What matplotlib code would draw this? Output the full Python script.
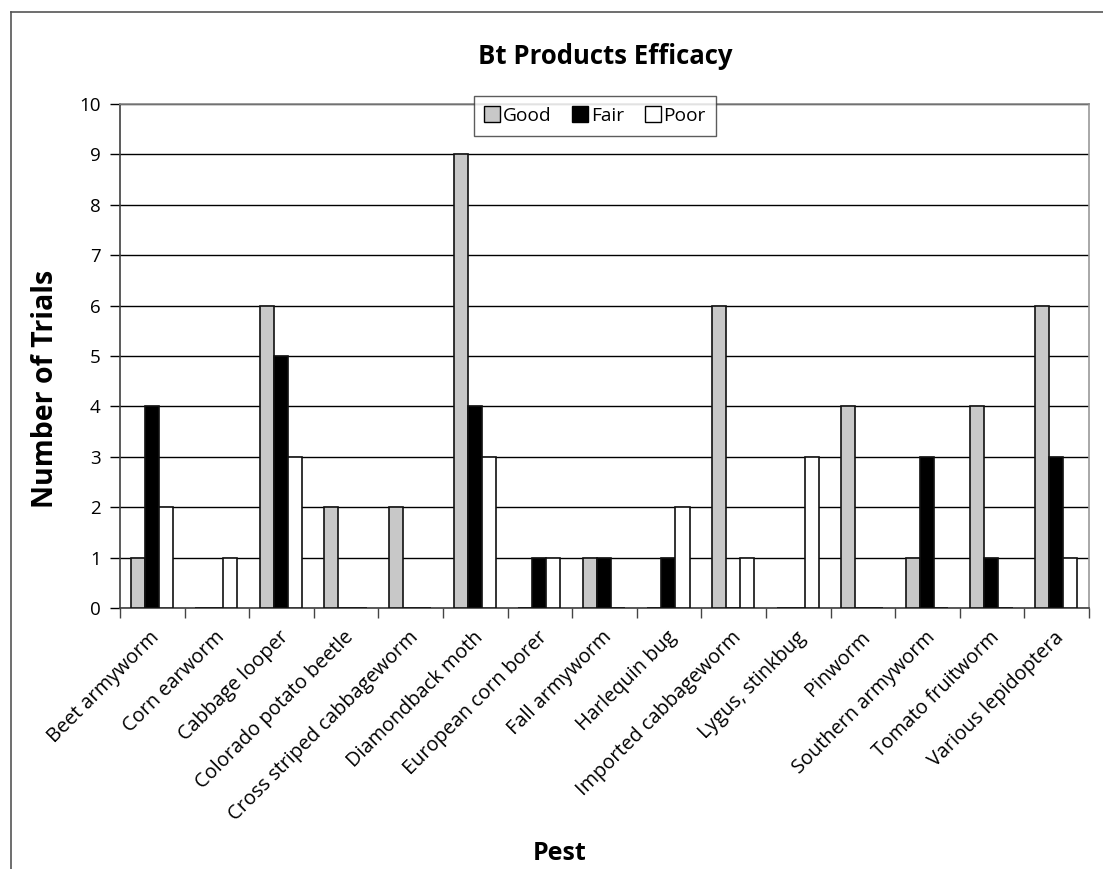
import matplotlib
matplotlib.use("Agg")
import matplotlib.pyplot as plt
from matplotlib.lines import Line2D
import numpy as np

plt.rcParams['font.family'] = ['Open Sans', 'DejaVu Sans']

pests = ["Beet armyworm", "Corn earworm", "Cabbage looper", "Colorado potato beetle",
         "Cross striped cabbageworm", "Diamondback moth", "European corn borer",
         "Fall armyworm", "Harlequin bug", "Imported cabbageworm", "Lygus, stinkbug",
         "Pinworm", "Southern armyworm", "Tomato fruitworm", "Various lepidoptera"]
good = [1, 0, 6, 2, 2, 9, 0, 1, 0, 6, 0, 4, 1, 4, 6]
fair = [4, 0, 5, 0, 0, 4, 1, 1, 1, 0, 0, 0, 3, 1, 3]
poor = [2, 1, 3, 0, 0, 3, 1, 0, 2, 1, 3, 0, 0, 0, 1]
series_names = ["Good", "Fair", "Poor"]
colors = ["#c8c8c8", "#000000", "#ffffff"]
yticks = list(range(0, 11))

W, H = 1103, 869
fig = plt.figure(figsize=(W / 100, H / 100), dpi=100)
ax = fig.add_axes([120 / W, 1 - 608 / H, (1089 - 120) / W, (608 - 104) / H])

x = np.arange(len(pests))
bw = 0.218
for i, (vals, c, name) in enumerate(zip([good, fair, poor], colors, series_names)):
    ax.bar(x + (i - 1) * bw - 0.01, vals, width=bw, color=c, edgecolor="#111111",
           linewidth=1.2, label=name, zorder=3)

ax.set_xlim(-0.5, len(pests) - 0.5)
ax.set_ylim(0, 10)
ax.set_yticks(yticks)
ax.set_yticklabels([str(v) for v in yticks], fontsize=13.5)
ax.yaxis.grid(True, color="black", linewidth=1.0, zorder=0)
ax.set_axisbelow(True)

ax.set_xticks(x - 0.04)
ax.set_xticklabels(pests, rotation=45, ha="right", rotation_mode="anchor", fontsize=14.3)
ax.tick_params(axis="x", which="major", length=0, pad=14)
ax.set_xticks(np.arange(len(pests) + 1) - 0.5, minor=True)
ax.tick_params(axis="x", which="minor", length=7, width=1, color="#444444", direction="out")
ax.tick_params(axis="y", length=7, width=1, color="black", direction="out", pad=7)

for s in ["left", "bottom"]:
    ax.spines[s].set_color("#404040")
    ax.spines[s].set_linewidth(1.2)
ax.spines["top"].set_color("#888888")
ax.spines["right"].set_color("#999999")
ax.spines["right"].set_linewidth(1.2)
ax.spines["top"].set_linewidth(1.2)

ax.set_ylabel("Number of Trials", fontsize=20.5, fontweight="bold")
ax.set_xlabel("Pest", fontsize=18, fontweight="bold")
ax.xaxis.label.set_verticalalignment("baseline")
ax.xaxis.set_label_coords((560 - 120) / (1089 - 120), 1 - (860 - 104) / (608 - 104))
ax.yaxis.set_label_coords((60 - 120) / (1089 - 120), 1 - (389 - 104) / (608 - 104))

fig.text(605 / W, 1 - 57 / H, "Bt Products Efficacy",
         fontsize=18.5, fontweight="bold", ha="center", va="center")

handles = [Line2D([], [], marker="s", linestyle="none", markersize=11,
                  markerfacecolor=c, markeredgecolor="black", markeredgewidth=1.0)
           for c in colors]
leg = ax.legend(handles, series_names, loc="center", ncol=3,
                bbox_to_anchor=((595 - 120) / (1089 - 120), 1 - (116 - 104) / (608 - 104)),
                fontsize=13.8, frameon=True, fancybox=False, handlelength=0.8,
                handletextpad=0.15, columnspacing=1.1, borderpad=0.55)
leg.get_frame().set_edgecolor("#333333")
leg.get_frame().set_linewidth(1.0)
leg.set_zorder(5)

fig.add_artist(Line2D([11 / W, 11 / W], [0, 1 - 12 / H], color="#555555", linewidth=1.2,
                      transform=fig.transFigure))
fig.add_artist(Line2D([11 / W, 1], [1 - 12 / H, 1 - 12 / H], color="#555555", linewidth=1.2,
                      transform=fig.transFigure))

fig.savefig("out.png", dpi=100, facecolor="white")
